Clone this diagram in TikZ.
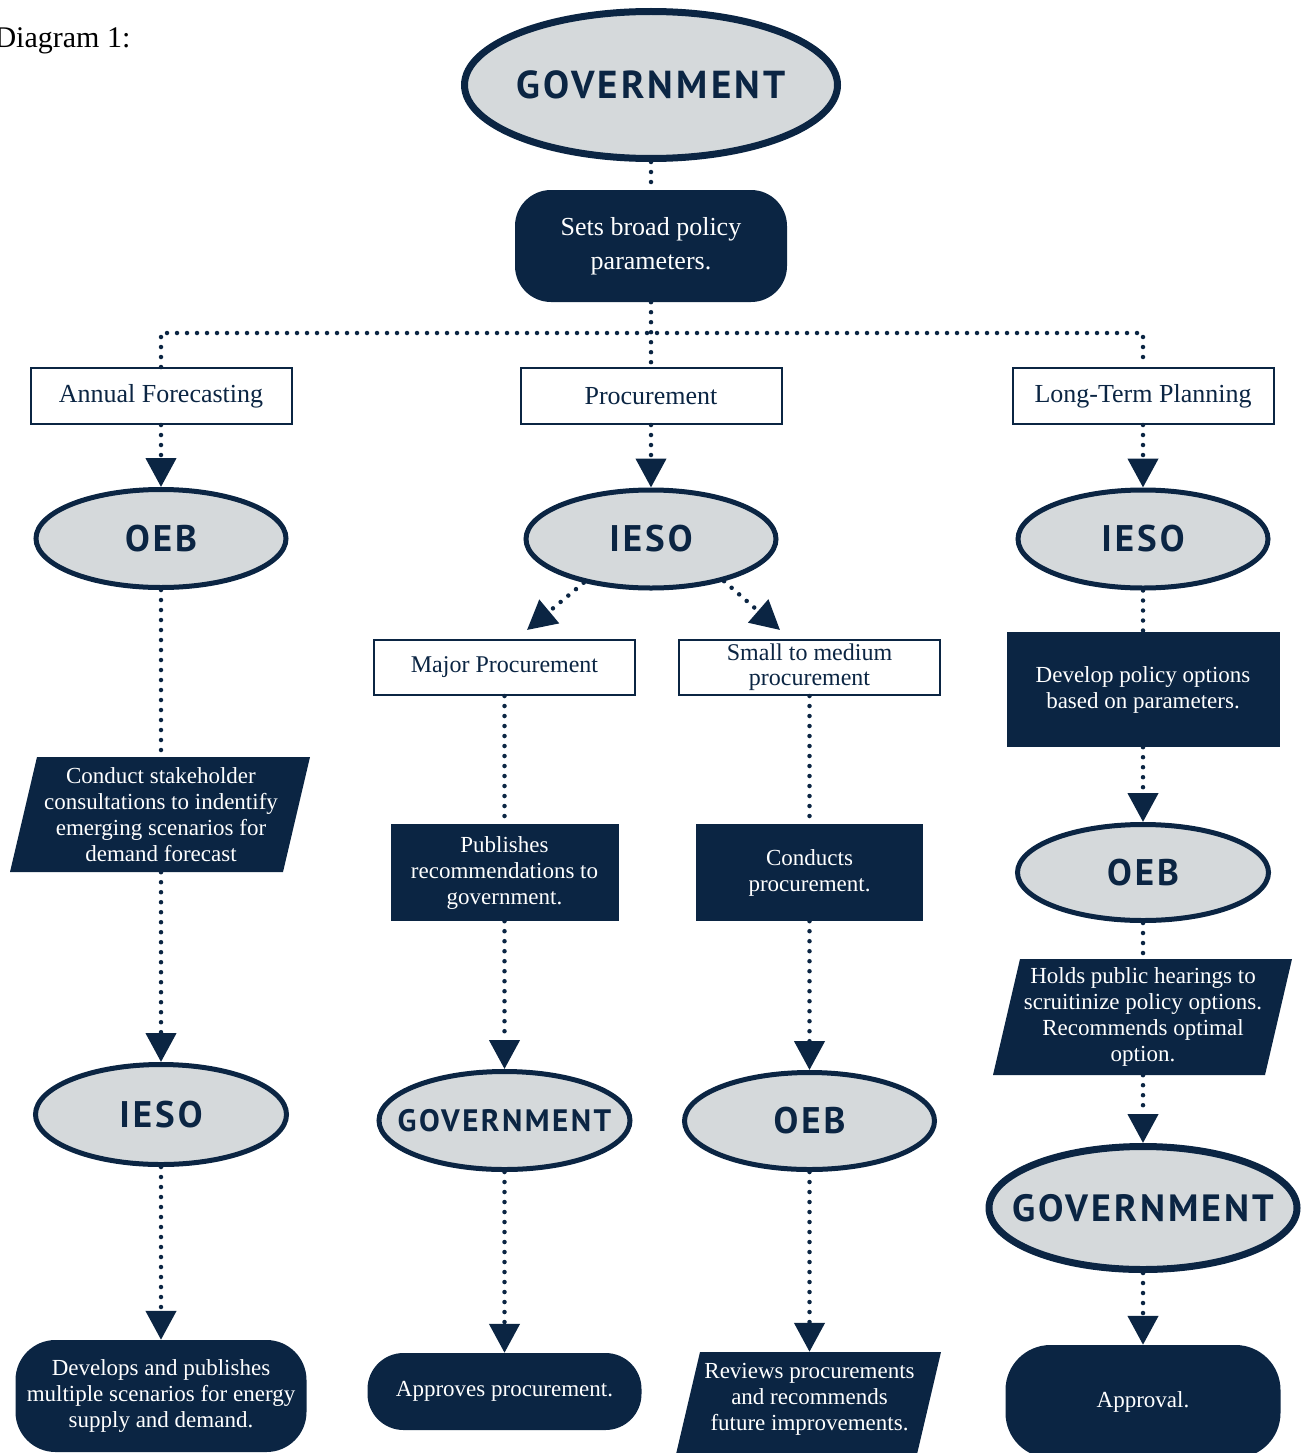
\documentclass[tikz,border=0pt]{standalone}
\usepackage{fontspec}
\setmainfont{Liberation Serif}
\newfontfamily\dinfont[LetterSpace=8]{PT Sans}
\usetikzlibrary{arrows.meta,shapes.geometric}
\definecolor{navy}{HTML}{0B2543}
\definecolor{lgray}{HTML}{D5D9DB}
\newcommand\myfs[2]{\fontsize{#1}{#2}\selectfont}
\tikzset{
 ell/.style={ellipse, draw=navy, fill=lgray, line width=5pt, inner sep=0pt, text=navy, font=\dinfont\bfseries\myfs{37}{37}},
 wbox/.style={rectangle, draw=navy, line width=2pt, fill=white, text=navy, inner sep=0pt, align=center, font=\myfs{26}{25}},
 dbox/.style={rectangle, fill=navy, text=white, inner sep=0pt, align=center, font=\myfs{23}{26}},
 rbox/.style={dbox, rounded corners=38pt},
 ptext/.style={rectangle, text=white, inner sep=0pt, align=center, font=\myfs{23}{26}},
 dotline/.style={draw=navy, line width=4.5pt, line cap=round, dash pattern=on 0pt off 10pt},
 arr/.style={dotline, -{Triangle[width=30pt,length=29pt]}},
}
\begin{document}
\begin{tikzpicture}[x=1pt,y=-1pt]
\useasboundingbox (0,0) rectangle (1301,1453);
\clip (0,0) rectangle (1301,1453);

\node[anchor=base west, text=black, font=\myfs{30}{32}] (title) at (-9,48) {Diagram 1:};

% top
\node[ell, line width=7pt, minimum width=373pt, minimum height=147pt, font=\dinfont\bfseries\myfs{39}{39}] (gov) at (651,85) {\makebox[0pt]{GOVERNMENT}};
\node[rbox, minimum width=272pt, minimum height=112pt, rounded corners=36pt, font=\myfs{26}{34}] (sets) at (651,246) {Sets broad policy\\parameters.};

% category boxes
\node[wbox, minimum width=261pt, minimum height=56pt] (af) at (161,396) {Annual Forecasting};
\node[wbox, minimum width=261pt, minimum height=56pt] (proc) at (651,396) {Procurement};
\node[wbox, minimum width=261pt, minimum height=56pt] (lt) at (1143,396) {Long-Term Planning};

% first row ellipses
\node[ell, minimum width=250pt, minimum height=98pt] (oebL) at (161,538.5) {OEB};
\node[ell, minimum width=250pt, minimum height=98pt] (iesoM) at (651,539) {IESO};
\node[ell, minimum width=250pt, minimum height=98pt] (iesoR) at (1143,539) {IESO};

% procurement split
\node[wbox, minimum width=261pt, minimum height=55pt, font=\myfs{24}{25}] (major) at (504.5,667.5) {Major Procurement};
\node[wbox, minimum width=261pt, minimum height=55pt, font=\myfs{24}{25}] (small) at (809.5,667.5) {Small to medium\\procurement};
\coordinate (majtip) at (527,630);
\coordinate (smalltip) at (780,630);

% left parallelogram
\fill[navy] (37,757) -- (310,757) -- (283,872) -- (10,872) -- cycle;
\node[ptext, minimum width=240pt, minimum height=115pt] (consult) at (161,814.5) {Conduct stakeholder\\consultations to indentify\\emerging scenarios for\\demand forecast};

% middle boxes
\node[dbox, minimum width=228pt, minimum height=97pt] (pub) at (504.5,872.5) {Publishes\\recommendations to\\government.};
\node[dbox, minimum width=227pt, minimum height=97pt] (cond) at (809.5,872.5) {Conducts\\procurement.};

% right column
\node[dbox, minimum width=273pt, minimum height=115pt] (dev) at (1143,689.5) {Develop policy options\\based on parameters.};
\node[ell, minimum width=251pt, minimum height=96pt] (oebR) at (1143,872.5) {OEB};
\fill[navy] (1020,959) -- (1292,959) -- (1265,1075) -- (993,1075) -- cycle;
\node[ptext, minimum width=240pt, minimum height=116pt] (hear) at (1143,1017) {Holds public hearings to\\scruitinize policy options.\\Recommends optimal\\option.};

% second row ellipses
\node[ell, minimum width=251pt, minimum height=100pt] (iesoL) at (161,1114.5) {IESO};
\node[ell, minimum width=251pt, minimum height=98pt, font=\dinfont\bfseries\myfs{31}{31}] (govM) at (504.5,1120.5) {\makebox[0pt]{GOVERNMENT}};
\node[ell, minimum width=250pt, minimum height=97pt] (oebM) at (809.5,1121) {OEB};
\node[ell, line width=7pt, minimum width=308pt, minimum height=123pt, font=\dinfont\bfseries\myfs{38}{38}] (govR) at (1143,1208) {\makebox[0pt]{GOVERNMENT}};

% bottom row
\node[rbox, minimum width=291pt, minimum height=112pt, rounded corners=40pt] (devpub) at (161,1396) {Develops and publishes\\multiple scenarios for energy\\supply and demand.};
\node[rbox, minimum width=274pt, minimum height=77pt, rounded corners=36pt] (appr) at (504.5,1391.5) {Approves procurement.};
\fill[navy] (700,1352) -- (941,1352) -- (914,1467) -- (673,1467) -- cycle;
\node[ptext, minimum width=220pt, minimum height=94pt] (rev) at (809.5,1399) {Reviews procurements\\and recommends\\future improvements.};
\node[rbox, minimum width=275pt, minimum height=113pt, rounded corners=45pt] (aprl) at (1143,1401.5) {Approval.};

% connectors
\coordinate (barM) at (651,333);
\draw[dotline] (gov.south) -- (sets.north);
\draw[dotline] (sets.south) -- (proc.north);
\draw[dotline] (af.north) |- (barM) -| (lt.north);

\draw[arr] (af.south) -- (oebL.north);
\draw[arr] (proc.south) -- (iesoM.north);
\draw[arr] (lt.south) -- (iesoR.north);

\draw[dotline] (oebL.south) -- (consult.north);
\draw[arr] (consult.south) -- (iesoL.north);
\draw[arr] (iesoL.south) -- (devpub.north);

\draw[arr] (iesoM.213) -- (majtip);
\draw[arr] (iesoM.330) -- (smalltip);
\draw[dotline] (major.south) -- (pub.north);
\draw[arr] (pub.south) -- (govM.north);
\draw[arr] (govM.south) -- (appr.north);
\draw[dotline] (small.south) -- (cond.north);
\draw[arr] (cond.south) -- (oebM.north);
\draw[arr] (oebM.south) -- (rev.north);

\draw[dotline] (iesoR.south) -- (dev.north);
\draw[arr] (dev.south) -- (oebR.north);
\draw[dotline] (oebR.south) -- (hear.north);
\draw[arr] (hear.south) -- (govR.north);
\draw[arr] (govR.south) -- (aprl.north);
\end{tikzpicture}
\end{document}
